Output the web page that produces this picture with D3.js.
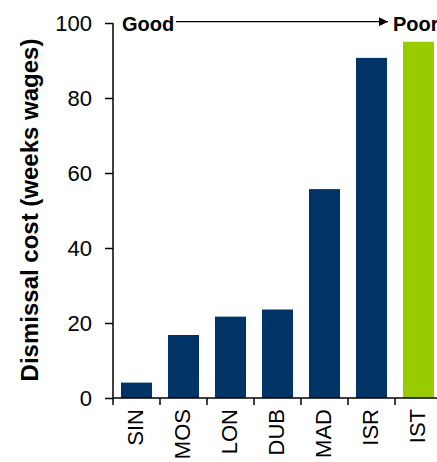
<!DOCTYPE html>
<html><head><meta charset="utf-8">
<script src="https://cdn.jsdelivr.net/npm/d3@7/dist/d3.min.js"></script>
<style>body{margin:0;background:#fff;}svg{display:block;font-family:"Liberation Sans",Arial,sans-serif;}</style>
</head><body>
<script>
const categories = ["SIN","MOS","LON","DUB","MAD","ISR","IST"];
const values = [4.1, 16.8, 21.7, 23.6, 55.7, 90.7, 95];
const colors = ["#003366","#003366","#003366","#003366","#003366","#003366","#99CC00"];
const yTicks = [0,20,40,60,80,100];

const W=437,H=462;
const svg=d3.select("body").append("svg").attr("width",W).attr("height",H);
const x=d3.scaleBand().domain(categories).range([113,442]).paddingInner(0.34).paddingOuter(0.17);
const y=d3.scaleLinear().domain([0,100]).range([398,23]);

svg.selectAll("rect.bar").data(values).enter().append("rect")
  .attr("x",(d,i)=>x(categories[i])).attr("width",x.bandwidth())
  .attr("y",d=>y(d)).attr("height",d=>y(0)-y(d)).attr("fill",(d,i)=>colors[i]);

const ya=svg.append("g").attr("transform","translate(113,0)")
  .call(d3.axisLeft(y).tickValues(yTicks).tickSize(8).tickPadding(13));
ya.select(".domain").attr("stroke","#000").attr("stroke-width",1.5).attr("d","M0,23V398");
ya.selectAll(".tick line").attr("stroke","#000").attr("stroke-width",1.5);
ya.selectAll("text").attr("font-size",22).attr("fill","#000").attr("font-family","Liberation Sans,Arial,sans-serif");

// x axis
const xg=svg.append("g").attr("transform","translate(0,398)");
xg.append("line").attr("x1",113).attr("x2",442).attr("stroke","#000").attr("stroke-width",1.5);
const bounds=categories.map(c=>x(c)-x.step()*x.paddingInner()/2);
bounds.push(bounds[bounds.length-1]+x.step());
xg.selectAll("line.tk").data(bounds).enter().append("line")
  .attr("x1",d=>d).attr("x2",d=>d).attr("y1",0).attr("y2",7).attr("stroke","#000").attr("stroke-width",1.5);
xg.selectAll("text").data(categories).enter().append("text")
  .attr("transform",d=>`translate(${x(d)+x.bandwidth()/2+6},11) rotate(-90)`)
  .attr("text-anchor","end").attr("font-size",22).attr("fill","#000").text(d=>d);

// y title
svg.append("text").attr("transform","translate(38,210) rotate(-90)")
  .attr("text-anchor","middle").attr("font-size",24).attr("font-weight","bold").text("Dismissal cost (weeks wages)");

// Good -> Poor
svg.append("defs").append("marker").attr("id","ah").attr("viewBox","0 0 10 10")
  .attr("refX",10).attr("refY",5).attr("markerWidth",12).attr("markerHeight",9).attr("markerUnits","userSpaceOnUse")
  .attr("orient","auto").append("path").attr("d","M0,0L10,5L0,10Z").attr("fill","#000");
svg.append("text").attr("x",122).attr("y",30.5).attr("font-size",20).attr("font-weight","bold").text("Good");
svg.append("line").attr("x1",176).attr("x2",388).attr("y1",21.7).attr("y2",21.7).attr("stroke","#000").attr("stroke-width",1.3).attr("marker-end","url(#ah)");
svg.append("text").attr("x",393).attr("y",30.5).attr("font-size",20).attr("font-weight","bold").text("Poor");
</script>
</body></html>
